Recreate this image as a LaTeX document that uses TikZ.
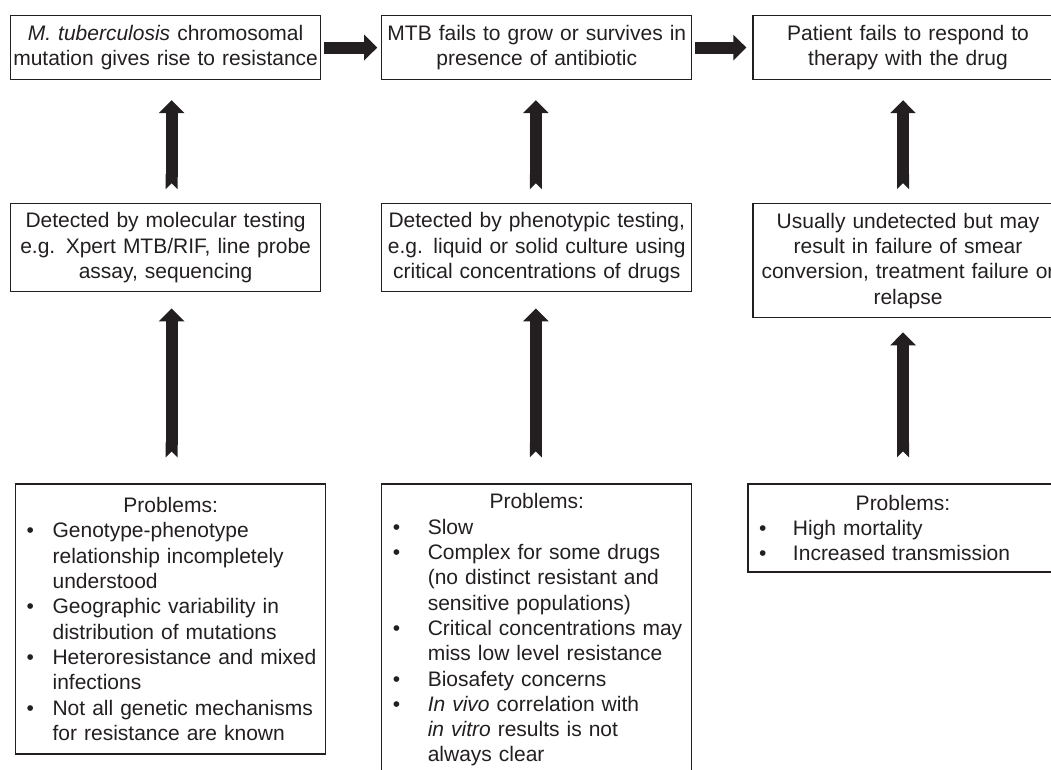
\documentclass[tikz,border=0pt]{standalone}
\usepackage{fontspec}
\setmainfont{Liberation Sans}
\usetikzlibrary{arrows.meta, positioning}

\definecolor{ink}{HTML}{231F20}
\newcommand{\bitem}[2][26pt]{\hspace*{11pt}\makebox[#1][l]{\textbullet}#2}
\newcommand{\bcont}[2][26pt]{\hspace*{11pt}\hspace*{#1}#2}

\begin{document}
\begin{tikzpicture}[
    x=1pt, y=1pt,
    font=\fontsize{21}{25.3}\selectfont,
    flowbox/.style={rectangle, draw=ink, line width=1.2pt, text=ink,
        inner xsep=1pt, inner ysep=0pt, text width=308pt, align=center},
    probbox/.style={rectangle, draw=ink, line width=1.2pt, text=ink,
        inner xsep=0pt, inner ysep=0pt, text width=310pt, align=left},
    fatarrow/.style={draw=ink, line width=12pt, -{Triangle[width=25pt, length=13pt]}},
    uparrow/.style={fatarrow, {Triangle Cap[reversed]}-{Triangle[width=25pt, length=13pt]}}
]

    \useasboundingbox (0,0) rectangle (1051,-769);
    \clip (0,0) rectangle (1051,-769);

    % Nodes ------------------------------------------------------

    \node[flowbox, minimum height=64pt, anchor=north west] (t1) at (10,-15)
        {\textit{M. tuberculosis} chromosomal\\mutation gives rise to resistance};
    \node[flowbox, minimum height=64pt, right=60pt of t1] (t2)
        {MTB fails to grow or survives in\\presence of antibiotic};
    \node[flowbox, minimum height=64pt, right=60pt of t2] (t3)
        {Patient fails to respond to\\therapy with the drug};

    % detection
    \node[flowbox, minimum height=88pt, below=123pt of t1] (m1)
        {Detected by molecular testing\\e.g. Xpert MTB/RIF, line probe\\assay, sequencing};
    \node[flowbox, minimum height=88pt, below=123pt of t2] (m2)
        {Detected by phenotypic testing,\\e.g. liquid or solid culture using\\critical concentrations of drugs};
    \node[flowbox, minimum height=114pt, below=123pt of t3] (m3)
        {Usually undetected but may\\result in failure of smear\\conversion, treatment failure or\\relapse};

    % problems
    \node[probbox, minimum height=270pt, below=191pt of m1, xshift=5pt] (b1)
        {\makebox[\linewidth]{Problems:}\\
         \bitem{Genotype-phenotype}\\
         \bcont{relationship incompletely}\\
         \bcont{understood}\\
         \bitem{Geographic variability in}\\
         \bcont{distribution of mutations}\\
         \bitem{Heteroresistance and mixed}\\
         \bcont{infections}\\
         \bitem{Not all genetic mechanisms}\\
         \bcont{for resistance are known}};
    \node[probbox, minimum height=292pt, below=191pt of m2] (b2)
        {\makebox[\linewidth]{Problems:}\\
         \bitem[35pt]{Slow}\\
         \bitem[35pt]{Complex for some drugs}\\
         \bcont[35pt]{(no distinct resistant and}\\
         \bcont[35pt]{sensitive populations)}\\
         \bitem[35pt]{Critical concentrations may}\\
         \bcont[35pt]{miss low level resistance}\\
         \bitem[35pt]{Biosafety concerns}\\
         \bitem[35pt]{\textit{In vivo} correlation with}\\
         \bcont[35pt]{\textit{in vitro} results is not}\\
         \bcont[35pt]{always clear}};
    \node[probbox, minimum height=88pt, below=165pt of m3, xshift=-5pt] (b3)
        {\makebox[\linewidth]{Problems:}\\
         \bitem[34pt]{High mortality}\\
         \bitem[34pt]{Increased transmission}};

    % Arrows ---------------------------------------------------

    \draw[fatarrow, shorten <=3pt, shorten >=4pt] (t1) -- (t2);
    \draw[fatarrow, shorten <=3pt, shorten >=6pt] (t2) -- (t3);

    \draw[uparrow, shorten <=14pt, shorten >=20pt] ([xshift=6pt]m1.north) -- ([xshift=6pt]t1.south);
    \draw[uparrow, shorten <=14pt, shorten >=20pt] ([xshift=-1pt]m2.north) -- ([xshift=-1pt]t2.south);
    \draw[uparrow, shorten <=14pt, shorten >=20pt] ([xshift=-5pt]m3.north) -- ([xshift=-5pt]t3.south);

    \draw[uparrow, shorten <=26pt, shorten >=16pt] ([xshift=1pt]b1.north) -- ([xshift=6pt]m1.south);
    \draw[uparrow, shorten <=26pt, shorten >=16pt] ([xshift=-1pt]b2.north) -- ([xshift=-1pt]m2.south);
    \draw[uparrow, shorten <=26pt, shorten >=14pt] (b3.north) -- ([xshift=-5pt]m3.south);

\end{tikzpicture}
\end{document}
